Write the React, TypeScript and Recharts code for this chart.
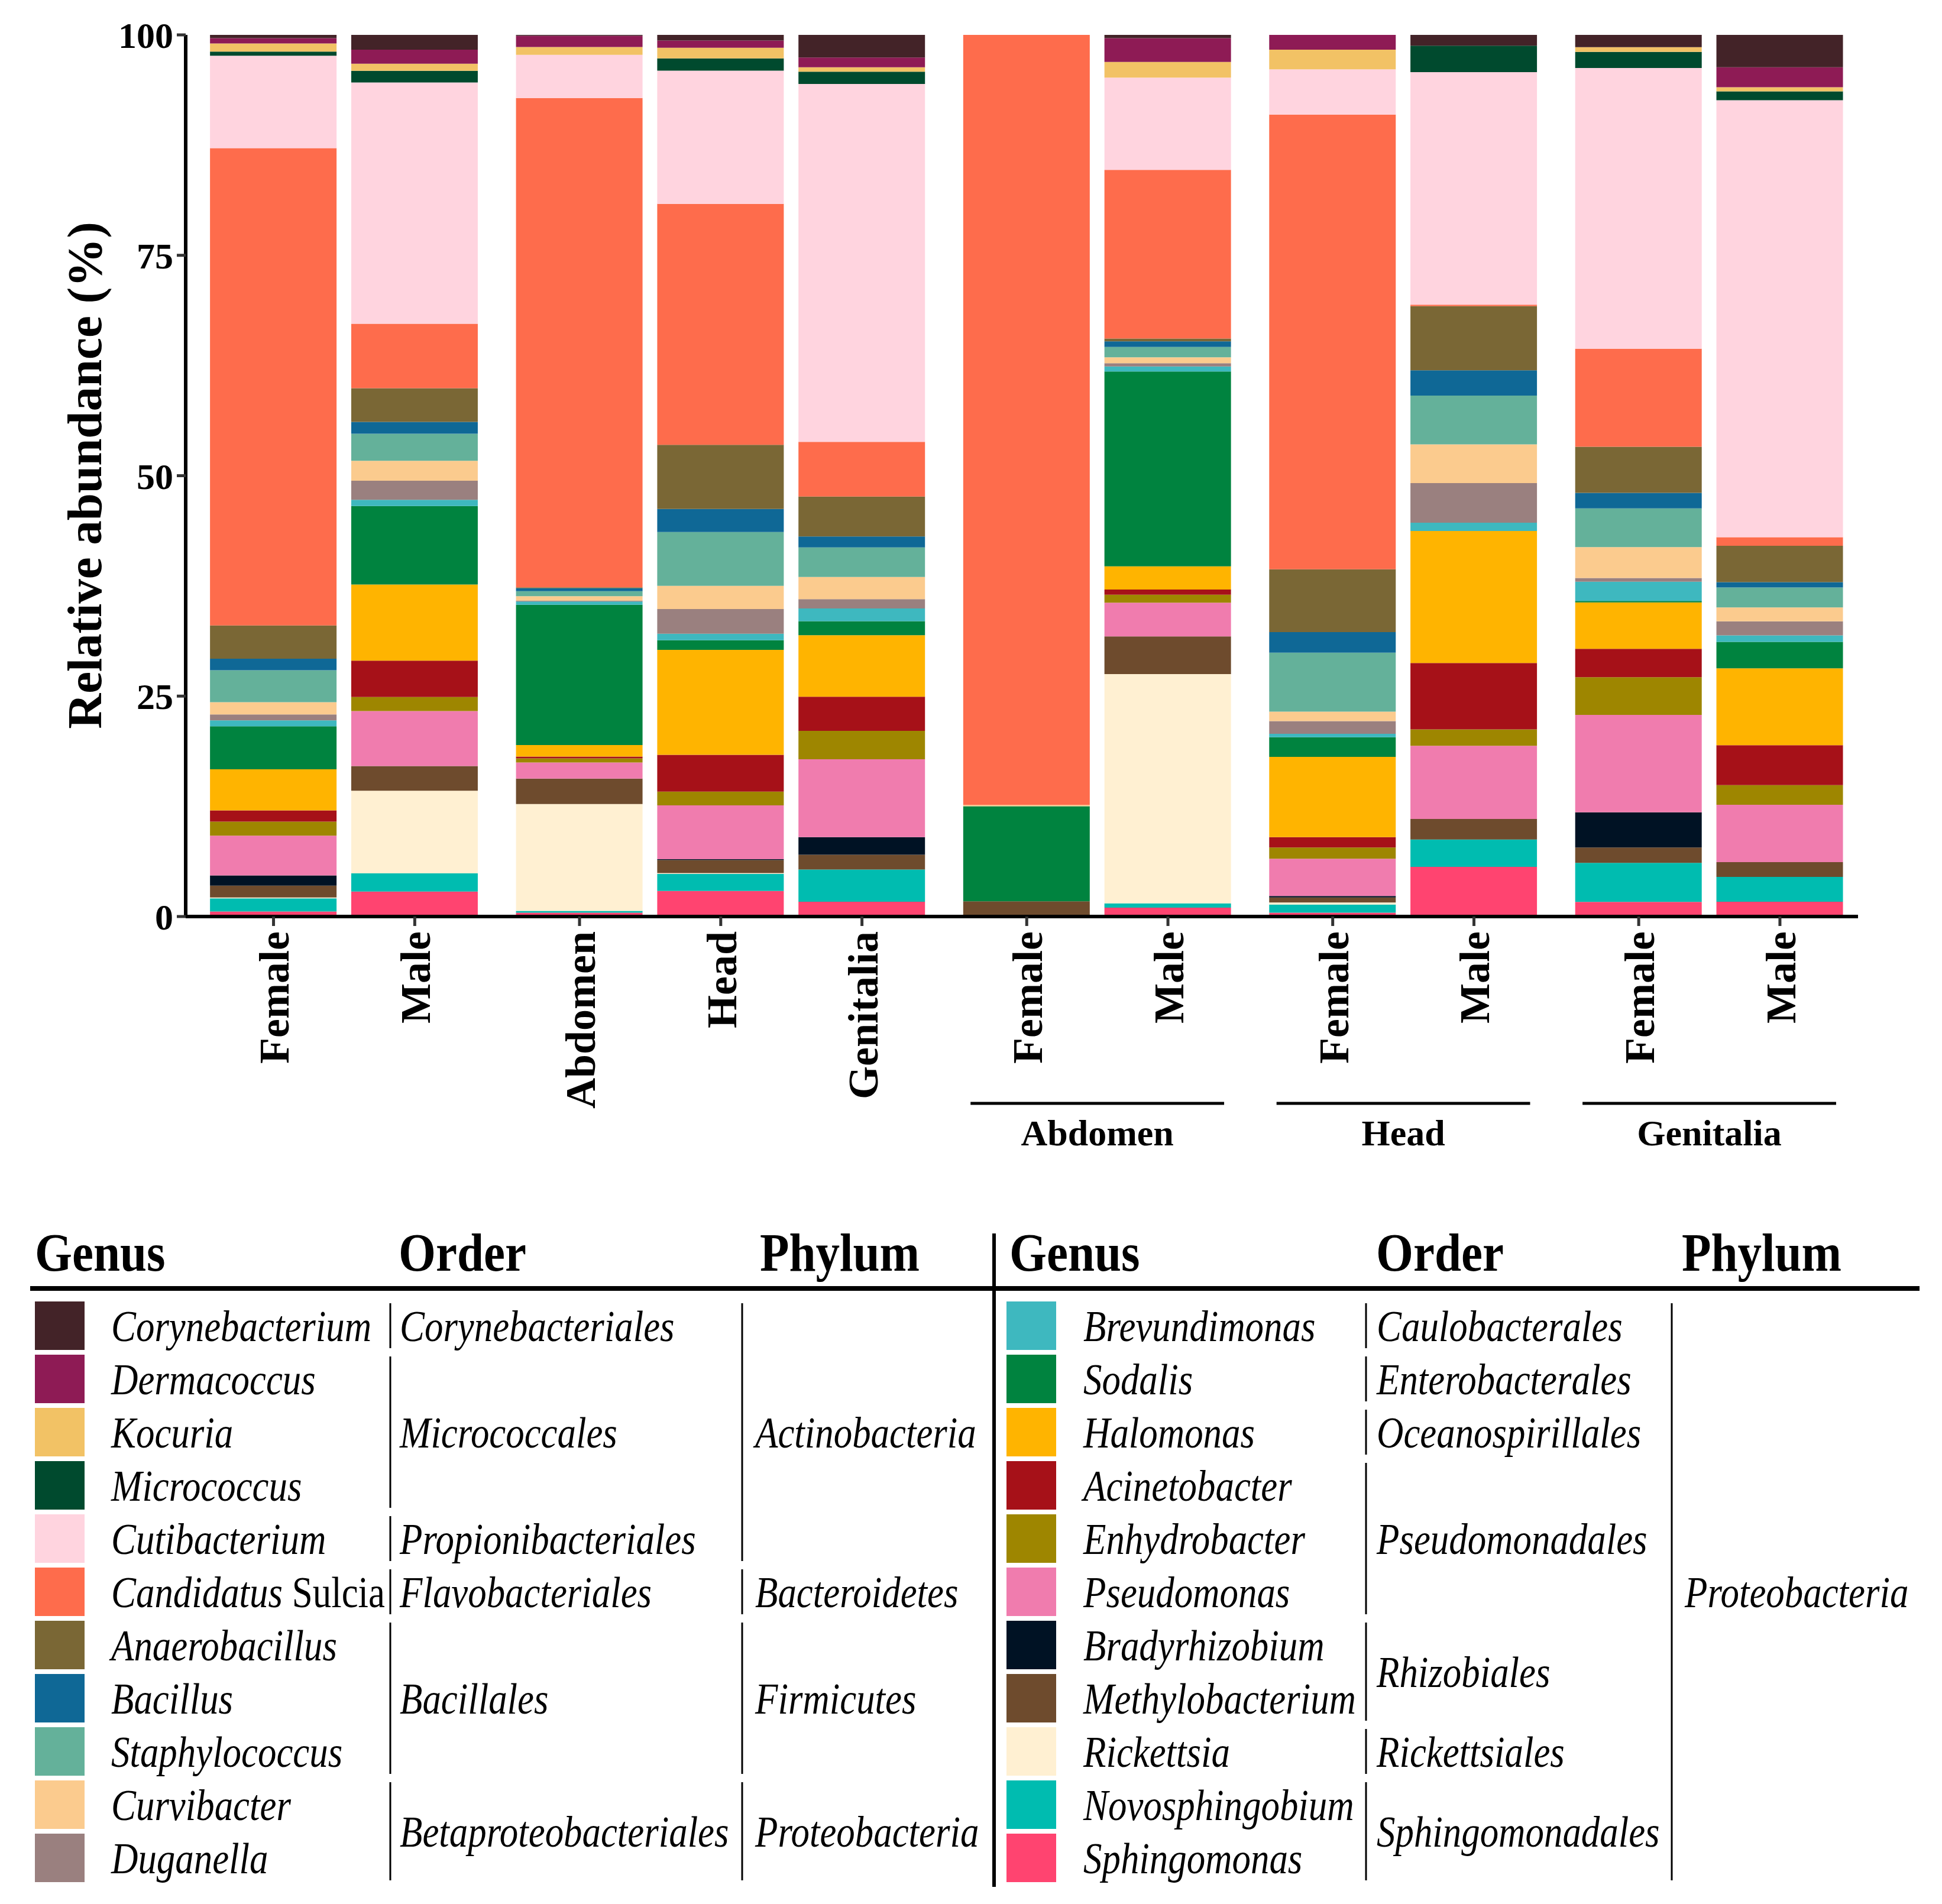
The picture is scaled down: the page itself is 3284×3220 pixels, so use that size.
import React from "react";
import { BarChart, Bar, XAxis, YAxis } from "recharts";

const FONT = '"Liberation Serif", "Times New Roman", serif';

// bars, left to right
const barLabels = ["Female", "Male", "Abdomen", "Head", "Genitalia", "Female", "Male", "Female", "Male", "Female", "Male"];
const barGroups = ["sex", "sex", "part", "part", "part", "Abdomen", "Abdomen", "Head", "Head", "Genitalia", "Genitalia"];
// groups that get a bracket + title under the axis
const groupTitles = ["Abdomen", "Head", "Genitalia"];

// genera as listed in the legend (top of the stack first)
const genera = [
  "Corynebacterium", "Dermacoccus", "Kocuria", "Micrococcus", "Cutibacterium", "Candidatus Sulcia",
  "Anaerobacillus", "Bacillus", "Staphylococcus", "Curvibacter", "Duganella",
  "Brevundimonas", "Sodalis", "Halomonas", "Acinetobacter", "Enhydrobacter", "Pseudomonas",
  "Bradyrhizobium", "Methylobacterium", "Rickettsia", "Novosphingobium", "Sphingomonas",
];
const genusColors = [
  "#432328", "#8e1b55", "#f2c265", "#004a2e", "#ffd4df", "#fe6c4c",
  "#7a6735", "#0f6896", "#64b19a", "#fbcb8e", "#9a807f",
  "#3eb8bf", "#00833f", "#ffb400", "#a61118", "#9e8600", "#f07cae",
  "#001224", "#6e4b2d", "#fff0d2", "#00bcb0", "#ff4470",
];

// relative abundance (%), one value per bar
const corynebacterium = [0.37, 1.67, 0.1, 0.63, 2.57, 0, 0.37, 0, 1.23, 1.4, 3.67];
const dermacoccus = [0.6, 1.6, 1.27, 0.83, 1.1, 0, 2.7, 1.67, 0, 0, 2.27];
const kocuria = [0.93, 0.8, 0.9, 1.2, 0.5, 0, 1.77, 2.23, 0, 0.53, 0.47];
const micrococcus = [0.47, 1.33, 0, 1.4, 1.4, 0, 0, 0, 3.0, 1.83, 1.0];
const cutibacterium = [10.47, 27.37, 4.9, 15.1, 40.6, 0, 10.47, 5.13, 26.37, 31.87, 49.57];
const sulcia = [54.17, 7.3, 55.53, 27.33, 6.2, 87.33, 19.13, 51.57, 0.17, 11.13, 0.97];
const anaerobacillus = [3.77, 3.83, 0.1, 7.27, 4.53, 0, 0.33, 7.13, 7.27, 5.23, 4.13];
const bacillus = [1.3, 1.33, 0.33, 2.63, 1.23, 0, 0.63, 2.33, 2.87, 1.77, 0.6];
const staphylococcus = [3.63, 3.07, 0.57, 6.1, 3.37, 0, 1.17, 6.7, 5.53, 4.4, 2.27];
const curvibacter = [1.4, 2.27, 0.5, 2.63, 2.5, 0.15, 0.67, 1.07, 4.4, 3.5, 1.57];
const duganella = [0.67, 2.17, 0.1, 2.8, 1.07, 0, 0.37, 1.43, 4.5, 0.43, 1.6];
const brevundimonas = [0.67, 0.7, 0.37, 0.73, 1.43, 0, 0.57, 0.4, 0.93, 2.17, 0.73];
const sodalis = [4.87, 8.9, 15.93, 1.1, 1.6, 10.77, 22.1, 2.23, 0, 0.17, 3.0];
const halomonas = [4.67, 8.63, 1.3, 11.9, 6.97, 0, 2.63, 9.1, 14.97, 5.27, 8.73];
const acinetobacter = [1.27, 4.13, 0.2, 4.17, 3.87, 0, 0.6, 1.17, 7.53, 3.23, 4.53];
const enhydrobacter = [1.6, 1.6, 0.47, 1.57, 3.23, 0, 0.9, 1.27, 1.87, 4.27, 2.23];
const pseudomonas = [4.5, 6.23, 1.83, 6.1, 8.83, 0, 3.83, 4.23, 8.3, 11.07, 6.5];
const bradyrhizobium = [1.17, 0, 0, 0.1, 2.0, 0, 0, 0.17, 0, 4.0, 0];
const methylobacterium = [1.33, 2.8, 2.9, 1.47, 1.67, 1.73, 4.27, 0.57, 2.33, 1.73, 1.67];
const rickettsia = [0.1, 9.37, 12.13, 0.1, 0, 0, 26.0, 0.23, 0, 0, 0];
const novosphingobium = [1.5, 2.07, 0.2, 1.93, 3.67, 0, 0.5, 0.93, 3.1, 4.43, 2.83];
const sphingomonas = [0.57, 2.83, 0.43, 2.9, 1.67, 0, 1.0, 0.43, 5.63, 1.67, 1.67];

const abundance = [
  corynebacterium, dermacoccus, kocuria, micrococcus, cutibacterium, sulcia,
  anaerobacillus, bacillus, staphylococcus, curvibacter, duganella,
  brevundimonas, sodalis, halomonas, acinetobacter, enhydrobacter, pseudomonas,
  bradyrhizobium, methylobacterium, rickettsia, novosphingobium, sphingomonas,
];

// legend taxonomy (row ranges inside each legend column)
const leftOrders = [
  { name: "Corynebacteriales", from: 0, to: 0 },
  { name: "Micrococcales", from: 1, to: 3 },
  { name: "Propionibacteriales", from: 4, to: 4 },
  { name: "Flavobacteriales", from: 5, to: 5 },
  { name: "Bacillales", from: 6, to: 8 },
  { name: "Betaproteobacteriales", from: 9, to: 10 },
];
const leftPhyla = [
  { name: "Actinobacteria", from: 0, to: 4 },
  { name: "Bacteroidetes", from: 5, to: 5 },
  { name: "Firmicutes", from: 6, to: 8 },
  { name: "Proteobacteria", from: 9, to: 10 },
];
const rightOrders = [
  { name: "Caulobacterales", from: 0, to: 0 },
  { name: "Enterobacterales", from: 1, to: 1 },
  { name: "Oceanospirillales", from: 2, to: 2 },
  { name: "Pseudomonadales", from: 3, to: 5 },
  { name: "Rhizobiales", from: 6, to: 7 },
  { name: "Rickettsiales", from: 8, to: 8 },
  { name: "Sphingomonadales", from: 9, to: 10 },
];
const rightPhyla = [{ name: "Proteobacteria", from: 0, to: 10 }];

// ---- layout ----
const W = 3284;
const H = 3220;
const CHART_H = 2000;
const PLOT_LEFT = 314;
const PLOT_RIGHT = 3142;
const PLOT_TOP = 59;
const PLOT_BOTTOM = 1550;
const X_AXIS_H = 300;
const BAR_SIZE = 214;
const GROUP_GAP = 1 / 6;

const positions: number[] = [];
barGroups.forEach((g, i) => {
  positions.push(i === 0 ? 0 : positions[i - 1] + 1 + (g !== barGroups[i - 1] ? GROUP_GAP : 0));
});
const X_DOMAIN = [positions[0] - 0.622, positions[positions.length - 1] + 0.553];
const PX_PER_UNIT = (PLOT_RIGHT - PLOT_LEFT) / (X_DOMAIN[1] - X_DOMAIN[0]);

const data = barLabels.map((label, i) => {
  const row: any = { pos: positions[i], label };
  genera.forEach((g, k) => (row[g] = abundance[k][i]));
  return row;
});

const groupTicks = groupTitles.map((title) => {
  const ps = positions.filter((_, i) => barGroups[i] === title);
  return { title, center: (ps[0] + ps[ps.length - 1]) / 2, span: ps[ps.length - 1] - ps[0] };
});

function BarTick({ x, y, payload }: any) {
  const d = data.find((r) => Math.abs(r.pos - payload.value) < 1e-6);
  if (!d) return null;
  return (
    <text
      x={x}
      y={y}
      transform={`rotate(-90 ${x} ${y})`}
      textAnchor="end"
      dy="0.36em"
      fontFamily={FONT}
      fontWeight="bold"
      fontSize={72}
      fill="#000"
    >
      {d.label}
    </text>
  );
}

function GroupTick({ x, y, payload }: any) {
  const g = groupTicks.find((t) => Math.abs(t.center - payload.value) < 1e-6);
  if (!g) return null;
  const half = (g.span * PX_PER_UNIT + BAR_SIZE) / 2 - 12;
  return (
    <g>
      <line x1={x - half} x2={x + half} y1={y + 16} y2={y + 16} stroke="#000" strokeWidth={5} />
      <text x={x} y={y + 65} textAnchor="middle" dy="0.35em" fontFamily={FONT} fontWeight="bold" fontSize={62} fill="#000">
        {g.title}
      </text>
    </g>
  );
}

// ---- legend table ----
const ROW0 = 2242;
const ROW_STEP = 90;
const rowY = (i: number) => ROW0 + i * ROW_STEP;
const SQUEEZE = 0.85;

function Txt({ x, y, size = 74, children }: any) {
  return (
    <text
      transform={`translate(${x},${y}) scale(${SQUEEZE},1)`}
      dy="0.35em"
      fontFamily={FONT}
      fontStyle="italic"
      fontSize={size}
      fill="#000"
    >
      {children}
    </text>
  );
}

function GenusName({ name }: { name: string }) {
  const parts = name.split(" ");
  if (parts.length === 1) return <>{name}</>;
  return (
    <>
      <tspan fontStyle="italic">{parts[0]} </tspan>
      <tspan fontStyle="normal">{parts.slice(1).join(" ")}</tspan>
    </>
  );
}

function LegendColumn({ names, colors, orders, phyla, x0, genusX, orderLineX, orderX, phylumLineX, phylumX }: any) {
  const span = (from: number, to: number) => [rowY(from) - 38, rowY(to) + 38];
  return (
    <g>
      {names.map((n: string, i: number) => (
        <g key={n}>
          <rect x={x0} y={rowY(i) - 41} width={84} height={82} fill={colors[i]} />
          <Txt x={genusX} y={rowY(i)}>
            <GenusName name={n} />
          </Txt>
        </g>
      ))}
      {orders.map((o: any) => {
        const [a, b] = span(o.from, o.to);
        return (
          <g key={o.name}>
            <line x1={orderLineX} x2={orderLineX} y1={a} y2={b} stroke="#000" strokeWidth={3} />
            <Txt x={orderX} y={(rowY(o.from) + rowY(o.to)) / 2}>{o.name}</Txt>
          </g>
        );
      })}
      {phyla.map((p: any) => {
        const [a, b] = span(p.from, p.to);
        return (
          <g key={p.name + p.from}>
            <line x1={phylumLineX} x2={phylumLineX} y1={a} y2={b} stroke="#000" strokeWidth={3} />
            <Txt x={phylumX} y={(rowY(p.from) + rowY(p.to)) / 2}>{p.name}</Txt>
          </g>
        );
      })}
    </g>
  );
}

function Header({ x, children }: any) {
  return (
    <text transform={`translate(${x},2149) scale(0.9,1)`} fontFamily={FONT} fontWeight="bold" fontSize={90} fill="#000">
      {children}
    </text>
  );
}

export default function App() {
  const stackOrder = genera.map((g, i) => ({ g, c: genusColors[i] })).reverse();
  return (
    <div style={{ position: "absolute", left: 0, top: 0, width: W, height: H, background: "#fff" }}>
      <BarChart
        width={W}
        height={CHART_H}
        data={data}
        stackOffset="expand"
        margin={{ top: PLOT_TOP, right: W - PLOT_RIGHT, bottom: 0, left: 0 }}
      >
        <YAxis
          width={PLOT_LEFT}
          domain={[0, 1]}
          ticks={[0, 0.25, 0.5, 0.75, 1]}
          tickFormatter={(v: number) => String(Math.round(v * 100))}
          tick={{ fill: "#000", fontSize: 62, fontWeight: "bold", fontFamily: FONT }}
          tickSize={15}
          tickMargin={6}
          axisLine={{ stroke: "#000", strokeWidth: 6 }}
          tickLine={{ stroke: "#333", strokeWidth: 5 }}
        />
        <XAxis
          xAxisId="bars"
          type="number"
          dataKey="pos"
          domain={X_DOMAIN}
          ticks={positions}
          interval={0}
          height={X_AXIS_H}
          tickSize={16}
          tickMargin={9}
          tick={(p: any) => <BarTick {...p} />}
          axisLine={{ stroke: "#000", strokeWidth: 6 }}
          tickLine={{ stroke: "#333", strokeWidth: 5 }}
        />
        <XAxis
          xAxisId="groups"
          type="number"
          dataKey="pos"
          domain={X_DOMAIN}
          ticks={groupTicks.map((t) => t.center)}
          interval={0}
          height={CHART_H - PLOT_BOTTOM - X_AXIS_H}
          tickSize={0}
          tickMargin={0}
          axisLine={false}
          tickLine={false}
          tick={(p: any) => <GroupTick {...p} />}
        />
        {stackOrder.map(({ g, c }) => (
          <Bar key={g} xAxisId="bars" dataKey={g} stackId="a" fill={c} barSize={BAR_SIZE} isAnimationActive={false} />
        ))}
      </BarChart>

      <svg width={W} height={H} style={{ position: "absolute", left: 0, top: 0, pointerEvents: "none" }}>
        <text
          x={142}
          y={804}
          transform="rotate(-90 142 804)"
          textAnchor="middle"
          dy="0.35em"
          fontFamily={FONT}
          fontWeight="bold"
          fontSize={83}
          fill="#000"
        >
          Relative abundance (%)
        </text>

        <Header x={59}>Genus</Header>
        <Header x={674}>Order</Header>
        <Header x={1285}>Phylum</Header>
        <Header x={1707}>Genus</Header>
        <Header x={2327}>Order</Header>
        <Header x={2844}>Phylum</Header>
        <line x1={51} x2={3246} y1={2179} y2={2179} stroke="#000" strokeWidth={8} />
        <line x1={1681} x2={1681} y1={2086} y2={3191} stroke="#000" strokeWidth={6} />

        <LegendColumn
          names={genera.slice(0, 11)}
          colors={genusColors.slice(0, 11)}
          orders={leftOrders}
          phyla={leftPhyla}
          x0={59}
          genusX={188}
          orderLineX={660}
          orderX={676}
          phylumLineX={1255}
          phylumX={1277}
        />
        <LegendColumn
          names={genera.slice(11)}
          colors={genusColors.slice(11)}
          orders={rightOrders}
          phyla={rightPhyla}
          x0={1702}
          genusX={1832}
          orderLineX={2310}
          orderX={2328}
          phylumLineX={2827}
          phylumX={2849}
        />
      </svg>
    </div>
  );
}
